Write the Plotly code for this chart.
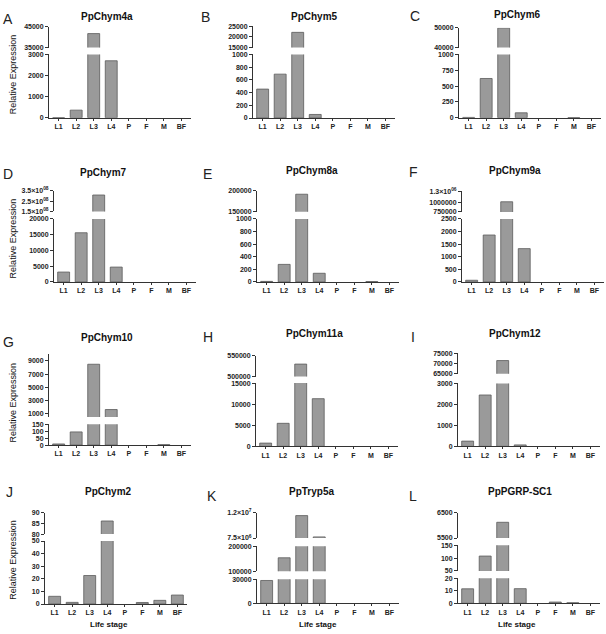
import plotly.graph_objects as go

W, H = 606, 634

stages = ["L1", "L2", "L3", "L4", "P", "F", "M", "BF"]
titles = ["PpChym4a", "PpChym5", "PpChym6", "PpChym7", "PpChym8a", "PpChym9a",
          "PpChym10", "PpChym11a", "PpChym12", "PpChym2", "PpTryp5a", "PpPGRP-SC1"]
letters = ["A", "B", "C", "D", "E", "F", "G", "H", "I", "J", "K", "L"]

# relative expression per life stage (L1, L2, L3, L4, P, F, M, BF)
chym4a = [3, 360, 41700, 2700, 0, 0, 0, 0]
chym5 = [455, 690, 22200, 56, 0, 0, 0, 0]
chym6 = [5, 620, 49800, 78, 0, 0, 2, 0]
chym7 = [3125, 15600, 3.1e8, 4700, 0, 0, 0, 0]
chym8a = [8, 278, 192000, 137, 0, 0, 5, 0]
chym9a = [65, 1860, 1.02e6, 1320, 0, 0, 0, 0]
chym10 = [8, 95, 8500, 1600, 0, 0, 3, 0]
chym11a = [770, 5460, 530000, 11300, 0, 0, 0, 0]
chym12 = [250, 2450, 71500, 70, 0, 0, 0, 0]
chym2 = [6.1, 1.3, 22.6, 86.1, 0, 1.2, 2.9, 7.1]
tryp5a = [28500, 154000, 1.147e7, 7.7e6, 0, 0, 0, 0]
pgrp_sc1 = [11.6, 108, 6120, 11.7, 0, 1.0, 0.5, 0]

values = [chym4a, chym5, chym6, chym7, chym8a, chym9a,
          chym10, chym11a, chym12, chym2, tryp5a, pgrp_sc1]

def sci(m, e):
    return f"{m}×10<sup>{e}</sup>"

# broken-axis segments: (range_lo, range_hi, tickvals, ticktext)
seg_ranges = [
    [(0, 3000, [0, 1000, 2000, 3000], None), (35000, 45000, [35000, 45000], None)],
    [(0, 1000, [0, 200, 400, 600, 800, 1000], None), (15000, 25000, [15000, 20000, 25000], None)],
    [(0, 1000, [0, 250, 500, 750, 1000], None), (40000, 50000, [40000, 50000], None)],
    [(0, 20000, [0, 5000, 10000, 15000, 20000], None),
     (1.5e8, 3.5e8, [1.5e8, 2.5e8, 3.5e8], [sci("1.5", "08"), sci("2.5", "08"), sci("3.5", "08")])],
    [(0, 1000, [0, 200, 400, 600, 800, 1000], None), (150000, 200000, [150000, 200000], None)],
    [(0, 2500, [0, 500, 1000, 1500, 2000, 2500], None),
     (750000, 1.3e6, [750000, 1000000, 1.3e6], ["750000", "1000000", sci("1.3", "06")])],
    [(0, 150, [0, 50, 100, 150], None), (450, 10000, [1000, 3000, 5000, 7000, 9000], None)],
    [(0, 15000, [0, 5000, 10000, 15000], None), (500000, 550000, [500000, 550000], None)],
    [(0, 3000, [0, 1000, 2000, 3000], None), (65000, 75000, [65000, 70000, 75000], None)],
    [(0, 50, [0, 10, 20, 30, 40, 50], None), (80, 90, [80, 85, 90], None)],
    [(0, 30000, [0, 30000], None), (100000, 200000, [100000, 200000], None),
     (7.5e6, 1.2e7, [7.5e6, 1.2e7], [sci("7.5", "6"), sci("1.2", "7")])],
    [(0, 20, [0, 10, 20], None), (50, 150, [50, 100, 150], None), (5500, 6500, [5500, 6500], None)],
]

# pixel geometry of each segment (bottom px, top px)
seg_px = [
    [(115, 51), (44, 23)],
    [(115.3, 51), (44, 22.7)],
    [(115, 51), (44, 24)],
    [(281, 217.3), (209.7, 189)],
    [(281, 217.3), (210, 189)],
    [(281, 217.3), (210.3, 189.3)],
    [(446, 425), (417.7, 354.3)],
    [(447.3, 383.3), (376.7, 355.7)],
    [(447.3, 383.7), (374, 353.3)],
    [(606.7, 543), (536, 514.3)],
    [(606, 581.7), (573.7, 548.3), (540, 514.3)],
    [(606, 580.7), (573.3, 547.3), (540, 514.3)],
]
x_start = [49, 253, 459, 54, 257, 462, 49, 256, 458, 45, 257, 458]
AX_W = 142

title_pos = [(107, 13), (314, 13), (517, 11), (103, 170), (312, 168), (515, 168),
             (107, 337), (314, 333), (515, 333), (108, 493), (311, 493), (520, 493)]
letter_pos = [(8, 15), (205, 13), (415, 12), (8, 172), (207, 172), (413, 170),
              (8, 342), (208, 337), (413, 337), (10, 493), (212, 497), (413, 497)]

FILL = "#9a9a9a"
EDGE = "#5a5a5a"
AXC = "#333333"
FONT = "Liberation Sans, Arial, sans-serif"
tickfont = dict(family=FONT, size=7, color="#222222", weight="bold")

fig = go.Figure()
layout = {}
yi = 0
for p in range(12):
    xn = p + 1
    xname = "x" if xn == 1 else f"x{xn}"
    xkey = "xaxis" if xn == 1 else f"xaxis{xn}"
    bottom_y = None
    edge_w = [0 if v == 0 else 0.8 for v in values[p]]
    for si, ((lo, hi, tv, tt), (pb, pt)) in enumerate(zip(seg_ranges[p], seg_px[p])):
        yi += 1
        yname = "y" if yi == 1 else f"y{yi}"
        ykey = "yaxis" if yi == 1 else f"yaxis{yi}"
        if si == 0:
            bottom_y = yname
        fig.add_trace(go.Bar(
            x=list(range(8)), y=values[p], xaxis=xname, yaxis=yname,
            width=0.68, marker=dict(color=FILL, line=dict(color=EDGE, width=edge_w)),
            showlegend=False, hoverinfo="skip"))
        ax = dict(domain=[1 - pb / H, 1 - pt / H], anchor=xname, range=[lo, hi],
                  tickmode="array", tickvals=tv, showline=True, linecolor=AXC, linewidth=1,
                  ticks="outside", ticklen=3, tickwidth=1, tickcolor=AXC,
                  tickfont=tickfont, showgrid=False, zeroline=False, fixedrange=True)
        if tt is not None:
            ax["ticktext"] = tt
        else:
            ax["ticktext"] = [str(int(v)) for v in tv]
        layout[ykey] = ax
    xs = x_start[p]
    layout[xkey] = dict(domain=[xs / W, (xs + AX_W) / W], anchor=bottom_y,
                        range=[-0.55, 7.55], tickmode="array", tickvals=list(range(8)),
                        ticktext=stages, showline=True, linecolor=AXC, linewidth=1,
                        ticks="outside", ticklen=2, tickcolor=AXC, tickfont=tickfont,
                        showgrid=False, zeroline=False, fixedrange=True)

annotations = []
for p in range(12):
    tx, ty = title_pos[p]
    annotations.append(dict(x=tx / W, y=1 - ty / H, xref="paper", yref="paper", text=titles[p],
                            showarrow=False, xanchor="center", yanchor="middle",
                            font=dict(family=FONT, size=10, color="#111111", weight="bold")))
    lx, ly = letter_pos[p]
    annotations.append(dict(x=lx / W, y=1 - ly / H, xref="paper", yref="paper", text=letters[p],
                            showarrow=False, xanchor="center", yanchor="middle",
                            font=dict(family="Liberation Sans, Arial, sans-serif", size=14,
                                      color="#222222", weight="normal")))

for yc in [71, 237, 403, 562]:
    annotations.append(dict(x=13 / W, y=1 - yc / H, xref="paper", yref="paper",
                            text="Relative Expression", textangle=-90, showarrow=False,
                            xanchor="center", yanchor="middle",
                            font=dict(family=FONT, size=9, color="#111111")))
for xc in [109, 318, 517]:
    annotations.append(dict(x=xc / W, y=1 - 627 / H, xref="paper", yref="paper",
                            text="Life stage", showarrow=False, xanchor="center", yanchor="middle",
                            font=dict(family=FONT, size=8, color="#111111", weight="bold")))

fig.update_layout(**layout)
fig.update_layout(width=W, height=H, margin=dict(l=0, r=0, t=0, b=0),
                  paper_bgcolor="white", plot_bgcolor="white", barmode="overlay",
                  annotations=annotations, showlegend=False)

fig.write_html("out.html", config={"displayModeBar": False, "staticPlot": True},
               post_script="document.body.style.margin='0';document.body.style.padding='0';")
